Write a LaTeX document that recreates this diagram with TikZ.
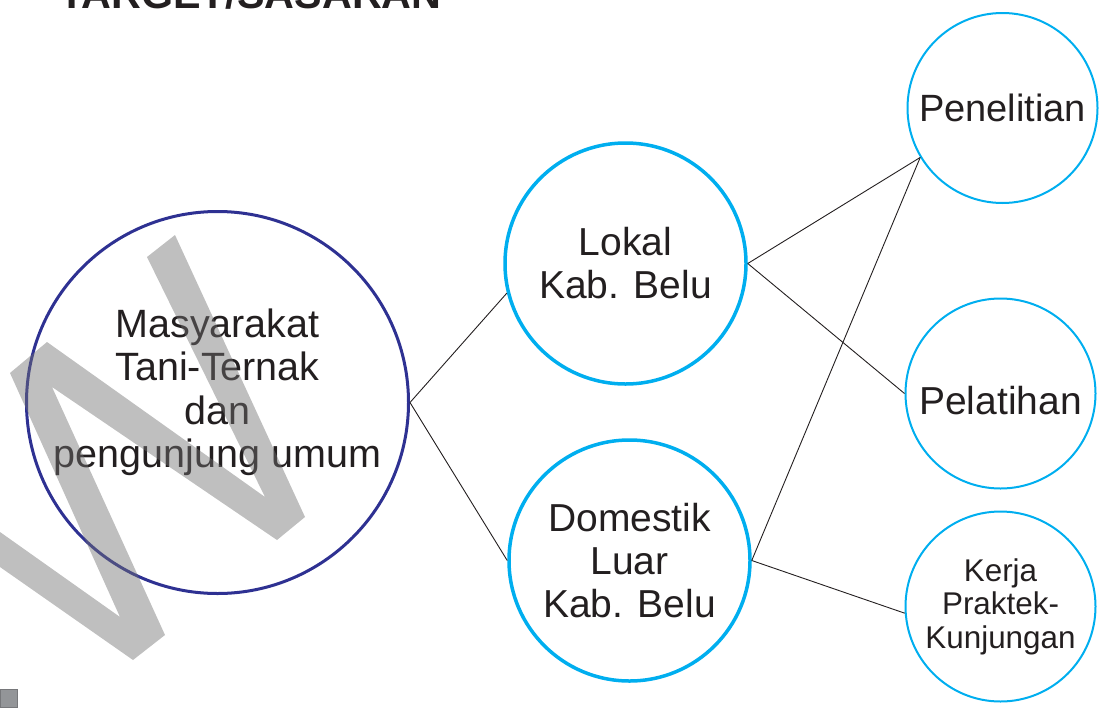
\documentclass[tikz,border=0pt]{standalone}
\usepackage{fontspec}
\setmainfont{Liberation Sans}
\usetikzlibrary{positioning}
\definecolor{Navy}{HTML}{2E3192}
\definecolor{SkyBlue}{HTML}{00AEEF}
\definecolor{DarkText}{HTML}{231F20}
\definecolor{MarkGray}{HTML}{717171}
\definecolor{SquareGray}{HTML}{939598}
\tikzset{
  bigcircle/.style={circle, draw=Navy, line width=3pt, minimum size=382pt, inner sep=0pt, align=center, text=DarkText, font=\fontsize{39.5}{43.5}\selectfont},
  midcircle/.style={circle, draw=SkyBlue, line width=3.5pt, minimum size=241pt, inner sep=0pt, align=center, text=DarkText, font=\fontsize{39}{43}\selectfont},
  smallcircle/.style={circle, draw=SkyBlue, line width=2pt, minimum size=190pt, inner sep=0pt, align=center, text=DarkText, font=\fontsize{39}{43}\selectfont},
  link/.style={draw=DarkText, line width=0.9pt}
}
\begin{document}
\begin{tikzpicture}[x=1pt,y=-1pt]
\useasboundingbox (0,0) rectangle (1113,707);
\clip (0,0) rectangle (1113,707);
\node[anchor=base west, inner sep=0pt, text=DarkText, font=\bfseries\fontsize{41.3}{45}\selectfont] (title) at (59,8) {TARGET/SASARAN};
\node[bigcircle, text depth=28.3pt] (masy) at (217.5,402.5) {Masyarakat\\Tani-Ternak\\dan\\pengunjung umum};
\node[midcircle] (lokal) at (625.5,263.5) {Lokal\\Kab. Belu};
\node[midcircle] (dom) at (629.5,560.5) {Domestik\\Luar\\Kab. Belu};
\node[smallcircle, font=\fontsize{38}{42}\selectfont] (pen) at (1002.5,108) {Penelitian};
\node[smallcircle, text height=43pt] (pel) at (1000.5,393.5) {Pelatihan};
\node[smallcircle, font=\fontsize{31.4}{33.5}\selectfont] (kerja) at (1000.5,606.5) {Kerja\\Praktek-\\Kunjungan};
\foreach \a/\b in {masy.east/lokal.194,masy.east/dom.west,lokal.east/pen.211,lokal.east/pel.west,dom.east/pen.211,dom.east/kerja.184}{\draw[link] (\a) -- (\b);}
% watermark
\fill[MarkGray, fill opacity=0.45] (175,235) -- (305,517) -- (277,540) -- (52,387) -- (165,635) -- (133,660) -- (0,567) -- (0,532) -- (120,617) -- (10,373) -- (47,342) -- (265,497) -- (147,257) -- cycle;
\filldraw[fill=SquareGray, draw=SquareGray!80!black, line width=0.8pt] (0,689) rectangle (17,707);
\end{tikzpicture}
\end{document}
